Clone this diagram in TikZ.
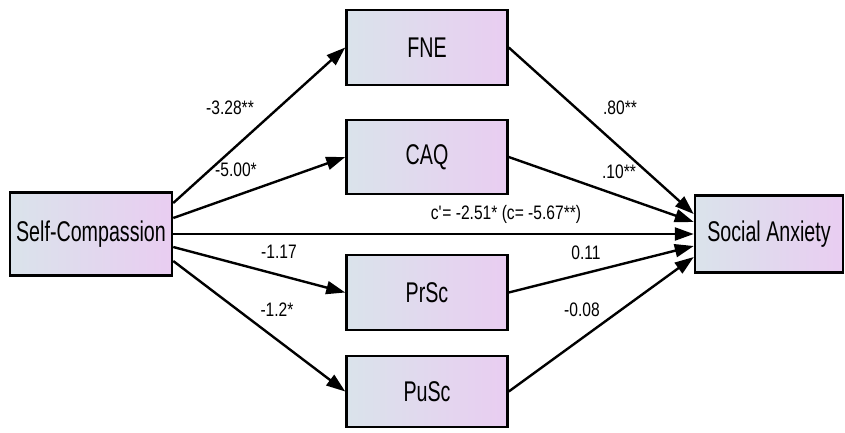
\documentclass[tikz,border=0pt]{standalone}
\usepackage{fontspec}
\setmainfont{Liberation Sans}
\newfontfamily\boxfont{Liberation Sans}[FakeStretch=0.69]
\newfontfamily\labfont{Liberation Sans}[FakeStretch=0.80]
\usetikzlibrary{arrows.meta}
\definecolor{boxleft}{RGB}{218,227,235}
\definecolor{boxright}{RGB}{233,205,241}
\tikzset{
  var/.style={draw=black, line width=2.5pt, left color=boxleft, right color=boxright,
    minimum width=161pt, minimum height=75pt, inner sep=0pt,
    font=\boxfont\fontsize{28.5}{32}\selectfont},
  path/.style={line width=2.4pt, -{Triangle[length=19pt,width=13pt]}},
  coef/.style={font=\labfont\fontsize{19.5}{22}\selectfont, inner sep=0pt}
}
\begin{document}
\begin{tikzpicture}[x=1pt,y=-1pt]
\useasboundingbox (0,0) rectangle (845,432);
\node[var, minimum width=162pt, minimum height=83pt] (sc) at (91,234) {Self-Compassion};
\node[var, minimum width=148pt, minimum height=77pt] (sa) at (769,234) {Social Anxiety};
\node[var] (fne) at (427,47.5) {FNE};
\node[var, minimum height=74pt] (caq) at (427,157) {CAQ};
\node[var] (prsc) at (427,292.5) {PrSc};
\node[var, minimum height=71pt] (pusc) at (427,391.5) {PuSc};
% paths from Self-Compassion
\draw[path] ([yshift=31pt]sc.east) -- (fne.west);
\draw[path] ([yshift=16pt]sc.east) -- (caq.west);
\draw[path] (sc.east) -- (sa.west);
\draw[path] ([yshift=-13pt]sc.east) -- (prsc.west);
\draw[path] ([yshift=-27pt]sc.east) -- (pusc.west);
% paths to Social Anxiety
\draw[path] (fne.east) -- ([yshift=20pt]sa.west);
\draw[path] (caq.east) -- ([yshift=12pt]sa.west);
\draw[path] (prsc.east) -- ([yshift=-12pt]sa.west);
\draw[path] (pusc.east) -- ([yshift=-23pt]sa.west);
% coefficients
\node[coef] (l1) at (230,108) {-3.28**};
\node[coef] (l2) at (236,170) {-5.00*};
\node[coef] (l3) at (506,214) {c\textquotesingle= -2.51* (c= -5.67**)};
\node[coef] (l4) at (279,252) {-1.17};
\node[coef] (l5) at (277,310) {-1.2*};
\node[coef] (l6) at (620,108) {.80**};
\node[coef] (l7) at (619,172) {.10**};
\node[coef] (l8) at (586,253) {0.11};
\node[coef] (l9) at (582,310) {-0.08};
\end{tikzpicture}
\end{document}
